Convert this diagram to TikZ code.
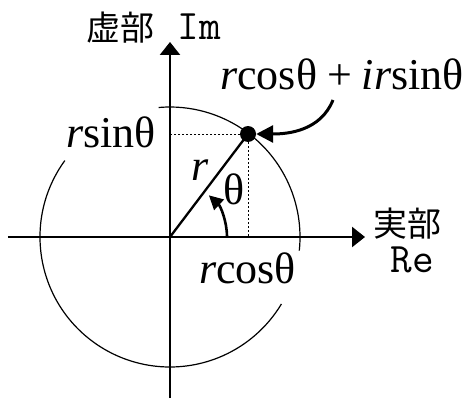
\documentclass[tikz,border=0pt]{standalone}
\usepackage{fontspec}
\setmainfont{Liberation Serif}
\newfontfamily\cjk{Noto Sans CJK JP}
\usetikzlibrary{arrows.meta}
\begin{document}
\begin{tikzpicture}[x=1pt,y=1pt,
  axis/.style={line width=2.6pt,-{Triangle[length=13pt,width=20pt]}},
  lbl/.style={inner sep=0pt,font=\fontsize{44}{48}\selectfont},
  cjklbl/.style={inner sep=0pt,font=\fontsize{34}{38}\selectfont\cjk},
  monolbl/.style={inner sep=0pt,font=\fontsize{42}{46}\selectfont\ttfamily},
  guide/.style={line width=1pt,dash pattern=on 2pt off 2pt}]
\useasboundingbox (-170,-162) rectangle (303,237);
\coordinate (O) at (0,0);
\coordinate (xs) at (-162,0);
\coordinate (xe) at (195,0);
\coordinate (ys) at (0,-161);
\coordinate (ye) at (0,195);
% circle arcs
\draw[line width=1.2pt] (-6:130) arc[start angle=-6,end angle=95,radius=130];
\draw[line width=1.2pt] (144:130) arc[start angle=144,end angle=329,radius=130];
% axes
\draw[axis] (xs) -- (xe);
\draw[axis] (ys) -- (ye);
% point
\node[circle,fill,inner sep=0pt,minimum size=16pt] (P) at (78,103) {};
\coordinate (Py) at (0,103);
\coordinate (Px) at (78,0);
\draw[guide] (P.center) -- (Py);
\draw[guide] (P.center) -- (Px);
\draw[line width=2.3pt] (O) -- (P.center);
% angle arc
\draw[line width=2.6pt,-{Triangle[length=14pt,width=14pt]}] (57,0) arc[start angle=0,end angle=47,radius=57];
% labels
\node[lbl,anchor=base] (top) at (172,147) {\textit{r}cosθ\hspace{10pt}+\hspace{10pt}\textit{ir}sinθ};
\coordinate (as) at (163,137);
\draw[line width=3pt,-{Triangle[length=17pt,width=17pt]}] (as) to[out=-112,in=0] (P.east);
\node[lbl,anchor=base] (rs) at (-59,90) {\textit{r}sinθ};
\node[lbl,anchor=base] (rl) at (30,57) {\textit{r}};
\node[lbl] (th) at (64,47.5) {θ};
\node[lbl,anchor=base] (rc) at (77.5,-46) {\textit{r}cosθ};
\node[cjklbl] (re1) at (237.5,13) {実部};
\node[monolbl,anchor=base] (re2) at (242,-35) {Re};
\node[cjklbl] (im1) at (-49,209.5) {虚部};
\node[monolbl,anchor=base] (im2) at (29,197) {Im};
\end{tikzpicture}
\end{document}
